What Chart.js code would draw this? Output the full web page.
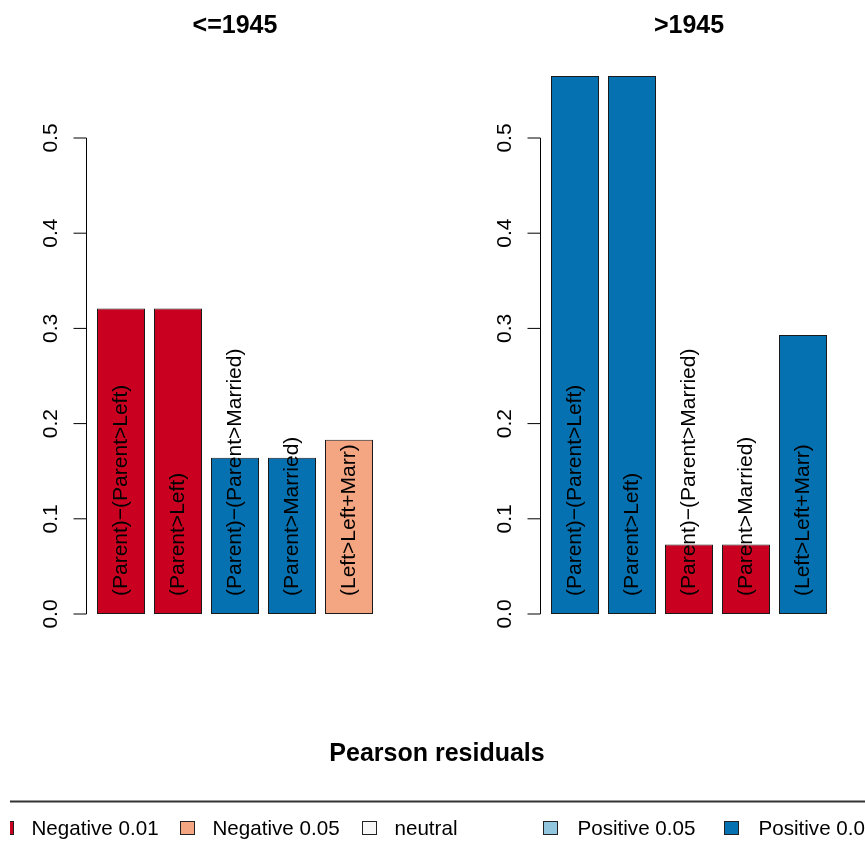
<!DOCTYPE html>
<html>
<head>
<meta charset="utf-8">
<script src="https://cdn.jsdelivr.net/npm/chart.js@4/dist/chart.umd.min.js"></script>
<style>
  body { margin: 0; background: #ffffff; }
  .wrap { position: relative; width: 865px; height: 848px; background: #ffffff; }
  canvas { position: absolute; left: 0; top: 0; }
</style>
</head>
<body>
<div class="wrap">
  <canvas id="left" width="865" height="848"></canvas>
  <canvas id="right" width="865" height="848"></canvas>
</div>
<script>
// ---- data ----
const categories = ["(Parent)\u2212(Parent>Left)", "(Parent>Left)", "(Parent)\u2212(Parent>Married)", "(Parent>Married)", "(Left>Left+Marr)"];
const panelTitles = ["<=1945", ">1945"];
const valuesBefore1945 = [0.321, 0.321, 0.164, 0.164, 0.183];
const valuesAfter1945 = [0.565, 0.565, 0.073, 0.073, 0.293];
const residualBefore1945 = ["Negative 0.01", "Negative 0.01", "Positive 0.01", "Positive 0.01", "Negative 0.05"];
const residualAfter1945 = ["Positive 0.01", "Positive 0.01", "Negative 0.01", "Negative 0.01", "Positive 0.01"];
const yTicks = [0.0, 0.1, 0.2, 0.3, 0.4, 0.5];
const yTickLabels = ["0.0", "0.1", "0.2", "0.3", "0.4", "0.5"];
const legendTitle = "Pearson residuals";
const legendLabels = ["Negative 0.01", "Negative 0.05", "neutral", "Positive 0.05", "Positive 0.01"];

// ---- styles ----
const residualColors = {
  "Negative 0.01": "#CA0020",
  "Negative 0.05": "#F4A582",
  "neutral": "#F7F7F7",
  "Positive 0.05": "#92C5DE",
  "Positive 0.01": "#0571B0"
};
const FONT = '"Liberation Sans", Arial, Helvetica, sans-serif';

const panelPlugin = {
  id: 'panelDecor',
  afterDraw(chart, args, opts) {
    const ctx = chart.ctx;
    const ys = chart.scales.y;
    const area = chart.chartArea;
    ctx.save();
    // y axis (R style)
    const x0 = Math.round(area.left - 6.5) + 0.5;
    ctx.strokeStyle = '#000';
    ctx.lineWidth = 1;
    ctx.beginPath();
    ctx.moveTo(x0, ys.getPixelForValue(yTicks[0]));
    ctx.lineTo(x0, ys.getPixelForValue(yTicks[yTicks.length - 1]));
    ctx.stroke();
    ctx.fillStyle = '#000';
    ctx.font = '21px ' + FONT;
    ctx.textAlign = 'center';
    ctx.textBaseline = 'alphabetic';
    yTicks.forEach((v, i) => {
      const py = ys.getPixelForValue(v);
      ctx.beginPath();
      ctx.moveTo(x0, py);
      ctx.lineTo(x0 - 13, py);
      ctx.stroke();
      ctx.save();
      ctx.translate(x0 - 30, py);
      ctx.rotate(-Math.PI / 2);
      ctx.fillText(yTickLabels[i], 0, 0);
      ctx.restore();
    });
    // title
    ctx.font = 'bold 25px ' + FONT;
    ctx.textAlign = 'center';
    ctx.fillText(opts.title, (area.left + area.right) / 2, 33);
    // bar labels
    ctx.font = '21px ' + FONT;
    ctx.textAlign = 'left';
    ctx.textBaseline = 'middle';
    const base = ys.getPixelForValue(0);
    chart.getDatasetMeta(0).data.forEach((bar, i) => {
      ctx.save();
      ctx.translate(bar.x, base - 18);
      ctx.rotate(-Math.PI / 2);
      ctx.fillText(chart.data.labels[i], 0, 0);
      ctx.restore();
    });
    // legend (drawn once)
    if (opts.drawLegend) {
      ctx.font = 'bold 25px ' + FONT;
      ctx.textAlign = 'center';
      ctx.textBaseline = 'alphabetic';
      ctx.fillText(legendTitle, 437, 761);
      ctx.beginPath();
      ctx.rect(10, 780, 865, 68);
      ctx.clip();
      ctx.strokeStyle = '#333';
      ctx.lineWidth = 2;
      ctx.beginPath();
      ctx.moveTo(0, 801.5);
      ctx.lineTo(865, 801.5);
      ctx.stroke();
      const startX = -1, step = 181.3;
      ctx.font = '20.6px ' + FONT;
      ctx.textAlign = 'left';
      ctx.textBaseline = 'middle';
      ctx.lineWidth = 1;
      legendLabels.forEach((lab, i) => {
        const sx = Math.round(startX + i * step) + 0.5;
        ctx.fillStyle = residualColors[lab];
        ctx.fillRect(sx, 821.5, 14, 13);
        ctx.strokeStyle = '#222';
        ctx.strokeRect(sx, 821.5, 14, 13);
        ctx.fillStyle = '#000';
        ctx.fillText(lab, sx + 32 + (i >= 3 ? 2 : 0), 829);
      });
    }
    ctx.restore();
  }
};

function makePanel(id, values, residuals, title, padLeft, padRight, drawLegend) {
  return new Chart(document.getElementById(id), {
    type: 'bar',
    data: {
      labels: categories,
      datasets: [{
        data: values,
        backgroundColor: residuals.map(r => residualColors[r]),
        borderColor: '#1a1a1a',
        borderWidth: 1,
        borderSkipped: false,
        barPercentage: 48 / 57,
        categoryPercentage: 1.0
      }]
    },
    options: {
      responsive: false,
      animation: false,
      events: [],
      layout: { padding: { left: padLeft, right: padRight, top: 42.8, bottom: 234 } },
      scales: {
        x: { display: false },
        y: { display: false, min: 0, max: 0.6 }
      },
      plugins: {
        legend: { display: false },
        tooltip: { enabled: false },
        title: { display: false },
        panelDecor: { title: title, drawLegend: drawLegend }
      }
    },
    plugins: [panelPlugin]
  });
}

makePanel('left', valuesBefore1945, residualBefore1945, panelTitles[0], 92.5, 865 - 377.5, true);
makePanel('right', valuesAfter1945, residualAfter1945, panelTitles[1], 546.5, 865 - 831.5, false);
</script>
</body>
</html>
